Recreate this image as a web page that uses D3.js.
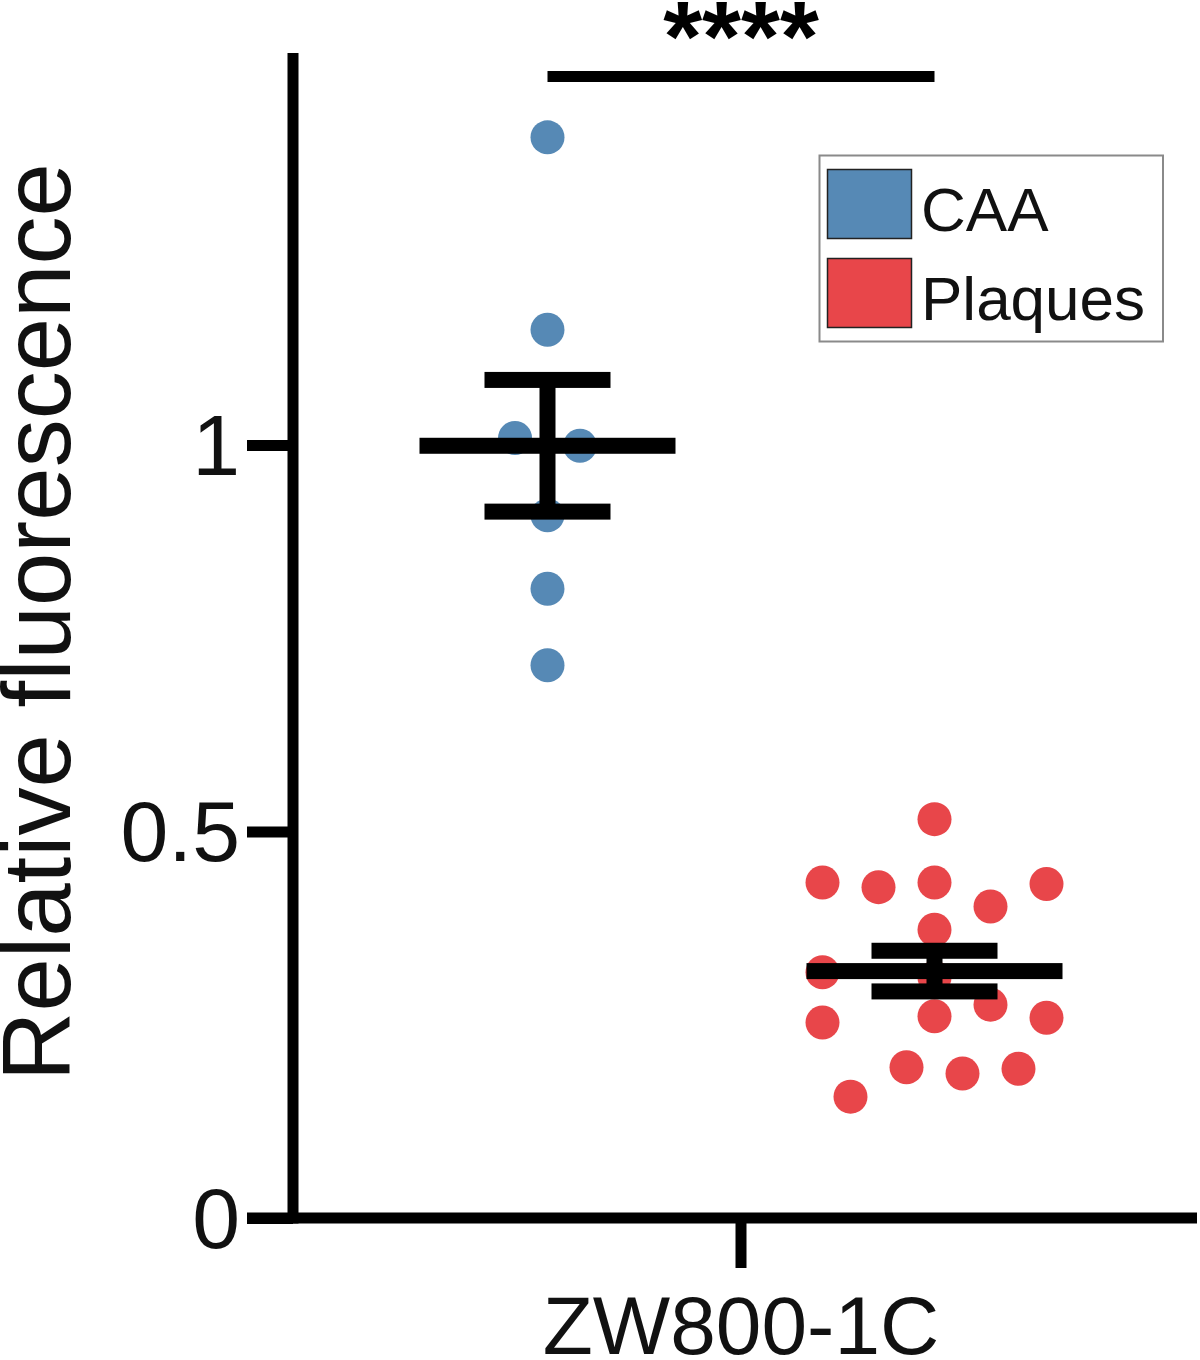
<!DOCTYPE html>
<html>
<head>
<meta charset="utf-8">
<script src="https://cdn.jsdelivr.net/npm/d3@7"></script>
<style>
  body { margin: 0; background: #fff; }
  svg { display: block; font-family: "Liberation Sans", Arial, Helvetica, sans-serif; }
</style>
</head>
<body>
<svg id="chart" width="1200" height="1360"></svg>
<script>
// Chart data
const categories = ["ZW800-1C"];
const groups = ["CAA", "Plaques"];
const groupColors = ["#5689b5", "#e8464a"];

// CAA values and their horizontal slot (beeswarm offset)
const caaValues = [1.398, 1.149, 1.009, 0.999, 0.909, 0.814, 0.715];
const caaSlots = [0, 0, -0.58, 0.58, 0, 0, 0];

// Plaques values and their horizontal slot
const plaqueValues = [
  0.516, 0.434, 0.428, 0.434, 0.403, 0.432, 0.373, 0.318, 0.311,
  0.276, 0.253, 0.261, 0.259, 0.195, 0.187, 0.193, 0.157,
];
const plaqueSlots = [
  0, -2, -1, 0, 1, 2, 0, -2, 0,
  1, -2, 0, 2, -0.5, 0.5, 1.5, -1.5,
];

const yTicks = [0, 0.5, 1];
const yTickLabels = ["0", "0.5", "1"];
const significance = "****";

// Layout
const plotLeft = 293;
const plotRight = 1197;
const plotTop = 53;
const plotBottom = 1218;
const axisWidth = 11;
const barWidth = 16;
const dotRadius = 17;

const svg = d3.select("#chart");

// Scales
const y = d3.scaleLinear().domain([0, 1.5]).range([plotBottom, plotBottom - 1.5 * 773]);
const x0 = d3.scaleBand().domain(categories).range([plotLeft, plotRight - 8]);
const x1 = d3.scalePoint().domain(groups).range([0, x0.bandwidth()]).padding(0.6576);
const slot = d3.scaleLinear().domain([0, 1]).range([0, 56]);
const color = d3.scaleOrdinal().domain(groups).range(groupColors);

// Build point records for each group
const series = [
  { group: "CAA", values: caaValues, slots: caaSlots },
  { group: "Plaques", values: plaqueValues, slots: plaqueSlots },
];
series.forEach((s) => {
  s.points = s.values.map((v, i) => ({ v: v, s: s.slots[i] }));
  s.mean = d3.mean(s.values);
  s.sem = d3.deviation(s.values) / Math.sqrt(s.values.length);
  s.cx = x0(categories[0]) + x1(s.group);
});

// Y axis
const yAxis = d3
  .axisLeft(y)
  .tickValues(yTicks)
  .tickFormat((d, i) => yTickLabels[i])
  .tickSize(46)
  .tickPadding(7);

const gy = svg.append("g").attr("transform", "translate(" + plotLeft + ",0)").call(yAxis);
gy.select(".domain").remove();
gy.selectAll(".tick line").attr("stroke", "#000").attr("stroke-width", axisWidth);
gy.selectAll(".tick text")
  .attr("fill", "#111")
  .style("font-size", "86px")
  .attr("dy", "0.34em");

// X axis
const xAxis = d3.axisBottom(x0).tickSize(50).tickPadding(0);
const gx = svg.append("g").attr("transform", "translate(0," + plotBottom + ")").call(xAxis);
gx.select(".domain").remove();
gx.selectAll(".tick line").attr("stroke", "#000").attr("stroke-width", axisWidth);
gx.selectAll(".tick text").remove();

// Axis lines
svg.append("line")
  .attr("x1", plotLeft).attr("x2", plotLeft)
  .attr("y1", plotTop).attr("y2", plotBottom + axisWidth / 2)
  .attr("stroke", "#000").attr("stroke-width", axisWidth);
svg.append("line")
  .attr("x1", plotLeft - 46).attr("x2", plotRight)
  .attr("y1", plotBottom).attr("y2", plotBottom)
  .attr("stroke", "#000").attr("stroke-width", axisWidth);

// Category label
svg.append("text")
  .attr("x", x0(categories[0]) + x0.bandwidth() / 2)
  .attr("y", 1354)
  .attr("text-anchor", "middle")
  .attr("fill", "#111")
  .style("font-size", "82px")
  .text(categories[0]);

// Y label
svg.append("text")
  .attr("transform", "translate(70," + 622 + ") rotate(-90)")
  .attr("text-anchor", "middle")
  .attr("fill", "#111")
  .style("font-size", "96px")
  .text("Relative fluorescence");

// Dots
series.forEach((s) => {
  svg.append("g")
    .selectAll("circle")
    .data(s.points)
    .join("circle")
    .attr("cx", (d) => s.cx + slot(d.s))
    .attr("cy", (d) => y(d.v))
    .attr("r", dotRadius)
    .attr("fill", color(s.group));
});

// Mean and SEM bars
series.forEach((s) => {
  const g = svg.append("g").attr("fill", "#000");
  g.append("rect")
    .attr("x", s.cx - 128).attr("width", 256)
    .attr("y", y(s.mean) - barWidth / 2).attr("height", barWidth);
  g.append("rect")
    .attr("x", s.cx - barWidth / 2).attr("width", barWidth)
    .attr("y", y(s.mean + s.sem)).attr("height", y(s.mean - s.sem) - y(s.mean + s.sem));
  [s.mean + s.sem, s.mean - s.sem].forEach((v) => {
    g.append("rect")
      .attr("x", s.cx - 63).attr("width", 126)
      .attr("y", y(v) - barWidth / 2).attr("height", barWidth);
  });
});

// Significance bracket
svg.append("line")
  .attr("x1", series[0].cx).attr("x2", series[1].cx)
  .attr("y1", 76.5).attr("y2", 76.5)
  .attr("stroke", "#000").attr("stroke-width", axisWidth);
svg.append("text")
  .attr("x", (series[0].cx + series[1].cx) / 2)
  .attr("y", 71)
  .attr("text-anchor", "middle")
  .style("font-size", "100px")
  .style("font-weight", "bold")
  .text(significance);

// Legend
const legend = svg.append("g");
legend.append("rect")
  .attr("x", 819.5).attr("y", 155.5)
  .attr("width", 343.5).attr("height", 186)
  .attr("fill", "#fff").attr("stroke", "#8a8a8a").attr("stroke-width", 2);
groups.forEach((gName, i) => {
  legend.append("rect")
    .attr("x", 827.5).attr("y", 169.5 + i * 89)
    .attr("width", 84).attr("height", 69)
    .attr("fill", color(gName)).attr("stroke", "#222").attr("stroke-width", 1.5);
  legend.append("text")
    .attr("x", 921).attr("y", 231 + i * 89)
    .attr("fill", "#111")
    .style("font-size", "62px")
    .text(gName);
});
</script>
</body>
</html>
